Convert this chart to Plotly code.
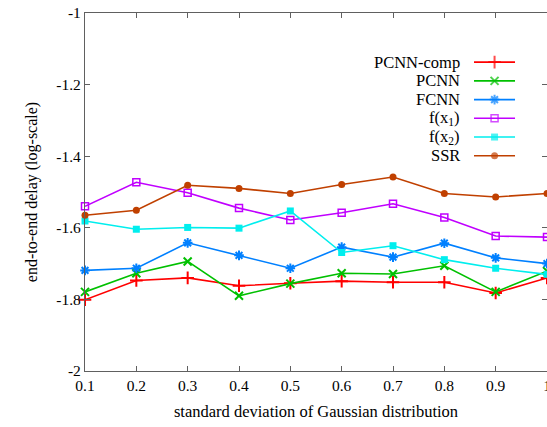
import plotly.graph_objects as go

x_vals = [0.1, 0.2, 0.3, 0.4, 0.5, 0.6, 0.7, 0.8, 0.9, 1.0]

pcnn_comp = [-1.801, -1.747, -1.740, -1.762, -1.755, -1.749, -1.752, -1.752, -1.782, -1.740]
pcnn      = [-1.779, -1.727, -1.694, -1.790, -1.756, -1.727, -1.729, -1.706, -1.779, -1.721]
fcnn      = [-1.719, -1.713, -1.642, -1.677, -1.713, -1.654, -1.682, -1.643, -1.684, -1.700]
f_x1      = [-1.540, -1.473, -1.502, -1.545, -1.578, -1.558, -1.533, -1.571, -1.623, -1.626]
f_x2      = [-1.581, -1.604, -1.599, -1.601, -1.553, -1.669, -1.650, -1.689, -1.713, -1.730]
ssr       = [-1.565, -1.551, -1.481, -1.490, -1.504, -1.479, -1.458, -1.504, -1.514, -1.504]

series_names = ["PCNN-comp", "PCNN", "FCNN", "f(x<sub>1</sub>)", "f(x<sub>2</sub>)", "SSR"]
series_values = [pcnn_comp, pcnn, fcnn, f_x1, f_x2, ssr]
colors = ["#ff0000", "#00c000", "#0080ff", "#c000ff", "#00eeee", "#c04000"]
symbols = ["cross-thin", "x-thin", "asterisk", "square-open", "square", "circle"]
sizes = [9, 8, 8, 7, 7, 7]

x_tickvals = [0.1, 0.2, 0.3, 0.4, 0.5, 0.6, 0.7, 0.8, 0.9, 1.0]
x_ticktext = ["0.1", "0.2", "0.3", "0.4", "0.5", "0.6", "0.7", "0.8", "0.9", "1"]
y_tickvals = [-2, -1.8, -1.6, -1.4, -1.2, -1]
y_ticktext = ["-2", "-1.8", "-1.6", "-1.4", "-1.2", "-1"]

FONT = "Liberation Serif"
AX = "#606060"

fig = go.Figure()

def marker_line(i):
    sym = symbols[i]
    thin = sym in ("cross-thin", "x-thin", "asterisk")
    return dict(color=colors[i], width=2 if thin else (1.5 if sym == "square-open" else 0))

for i, (name, vals) in enumerate(zip(series_names, series_values)):
    fig.add_trace(go.Scatter(
        x=x_vals, y=vals, mode="lines+markers", name=name,
        line=dict(color=colors[i], width=1.6),
        marker=dict(symbol=symbols[i], size=sizes[i], color=colors[i], line=marker_line(i)),
        showlegend=False, cliponaxis=False,
    ))

# gnuplot-style key: text on the left, sample on the right
n = len(series_names)
for i, name in enumerate(series_names):
    row = n - 1 - i
    fig.add_trace(go.Scatter(
        x=[0, 0.5, 1], y=[row, row, row], mode="lines+markers",
        xaxis="x2", yaxis="y2", showlegend=False, hoverinfo="skip",
        line=dict(color=colors[i], width=1.6),
        marker=dict(symbol=symbols[i], size=[0, sizes[i], 0], color=colors[i],
                    line=marker_line(i)),
        cliponaxis=False,
    ))
    fig.add_annotation(x=0.816, xref="paper", y=row, yref="y2", text=name,
                       xanchor="right", yanchor="middle", showarrow=False,
                       font=dict(family=FONT, size=16.5, color="black"))

fig.update_layout(
    width=547, height=427,
    margin=dict(l=85, r=0, t=13, b=56),
    paper_bgcolor="white", plot_bgcolor="white",
    font=dict(family=FONT, size=15.5, color="black"),
    xaxis=dict(range=[0.1, 1.0], tickvals=x_tickvals, ticktext=x_ticktext,
               ticklabeloverflow="allow", automargin=False,
               showline=True, linecolor=AX, linewidth=1.2, mirror="allticks",
               ticks="inside", ticklen=5, tickcolor=AX, showgrid=False, zeroline=False,
               title=dict(text="standard deviation of Gaussian distribution",
                          font=dict(family=FONT, size=16.5), standoff=12)),
    yaxis=dict(range=[-2, -1], tickvals=y_tickvals, ticktext=y_ticktext,
               ticklabeloverflow="allow", automargin=False,
               showline=True, linecolor=AX, linewidth=1.2, mirror="allticks",
               ticks="inside", ticklen=5, tickcolor=AX, showgrid=False, zeroline=False,
               title=dict(text="end-to-end delay (log-scale)",
                          font=dict(family=FONT, size=16), standoff=14)),
    xaxis2=dict(domain=[0.842, 0.931], range=[0, 1], visible=False, anchor="y2"),
    yaxis2=dict(domain=[0.575, 0.889], range=[-0.5, 5.5], visible=False, anchor="x2"),
)

fig.write_html("out.html",
               config={"displayModeBar": False},
               post_script="document.body.style.margin='0';document.body.style.overflow='hidden';")
